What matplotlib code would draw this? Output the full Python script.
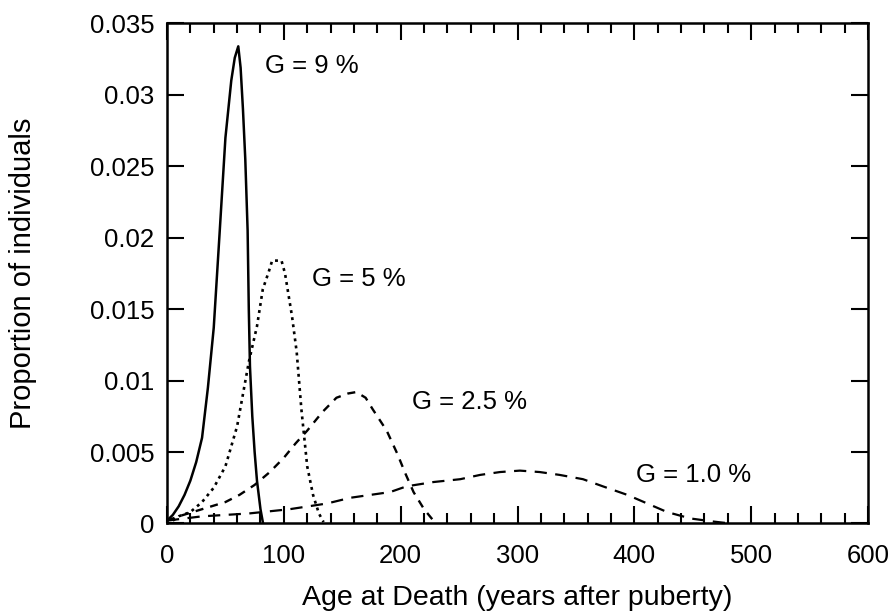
import matplotlib
matplotlib.use("Agg")
import matplotlib.pyplot as plt
from matplotlib.ticker import MultipleLocator, FixedLocator, FixedFormatter

plt.rcParams['font.family'] = ['Liberation Sans', 'DejaVu Sans']

# G = 9 %  (solid)
age_g9 = [0, 5, 10, 15, 20, 25, 30, 35, 40, 45, 50, 55, 58, 61, 63, 65, 67, 69, 70, 71, 73, 75, 77, 80, 82]
prop_g9 = [0.0002, 0.0006, 0.0012, 0.002, 0.003, 0.0043, 0.006, 0.0095, 0.0137, 0.0203, 0.027, 0.031,
           0.0326, 0.0334, 0.0319, 0.029, 0.0255, 0.0205, 0.015, 0.011, 0.0075, 0.005, 0.003, 0.001, 0.0001]

# G = 5 %  (dotted)
age_g5 = [5, 10, 20, 30, 40, 50, 60, 70, 77, 82, 87, 90, 94, 98, 101, 104, 107, 111, 115, 120, 125, 130, 134]
prop_g5 = [0.0002, 0.0005, 0.0008, 0.0015, 0.0025, 0.004, 0.0068, 0.0113, 0.0138, 0.0164, 0.0176, 0.0184,
           0.0184, 0.0184, 0.0175, 0.016, 0.0145, 0.012, 0.008, 0.004, 0.002, 0.0007, 0.0001]

# G = 2.5 %  (short dashes)
age_g25 = [0, 10, 30, 50, 62, 75, 88, 100, 110, 120, 133, 145, 155, 162, 170, 176, 188, 197, 204, 211, 220, 228]
prop_g25 = [0.0002, 0.0005, 0.001, 0.0015, 0.002, 0.0027, 0.0036, 0.0046, 0.0056, 0.0065, 0.0078, 0.0088,
            0.0091, 0.0092, 0.0088, 0.008, 0.0065, 0.0049, 0.0035, 0.0022, 0.001, 0.0002]

# G = 1.0 %  (long dashes)
age_g1 = [0, 10, 30, 70, 105, 137, 157, 174, 191, 205, 228, 251, 268, 285, 302, 319, 336, 356, 373, 394,
          411, 428, 448, 467, 482]
prop_g1 = [0.0002, 0.0003, 0.0005, 0.0007, 0.001, 0.0014, 0.0018, 0.002, 0.0022, 0.0026, 0.0029, 0.0031,
           0.0034, 0.0036, 0.0037, 0.0036, 0.0034, 0.0031, 0.0026, 0.002, 0.0014, 0.0008, 0.00035, 0.00014, 0.0]

y_ticks = [0, 0.005, 0.01, 0.015, 0.02, 0.025, 0.03, 0.035]
y_tick_labels = ['0', '0.005', '0.01', '0.015', '0.02', '0.025', '0.03', '0.035']

fig = plt.figure(figsize=(8.94, 6.16), dpi=100)
ax = fig.add_axes([0.1868, 0.1502, 0.971 - 0.1868, 0.9619 - 0.1502])

ax.plot(age_g9, prop_g9, color='black', lw=1.8)
ax.plot(age_g5, prop_g5, color='black', lw=1.9, dashes=(1.1, 1.6))
ax.plot(age_g25, prop_g25, color='black', lw=1.7, dashes=(3.4, 3.0))
ax.plot(age_g1, prop_g1, color='black', lw=1.6, dashes=(5.5, 3.8))

ax.text(84, 0.0315, 'G = 9 %', fontsize=18.5)
ax.text(124, 0.0166, 'G = 5 %', fontsize=18.5)
ax.text(210, 0.0080, 'G = 2.5 %', fontsize=18.5)
ax.text(401, 0.0029, 'G = 1.0 %', fontsize=18.5)

ax.set_xlim(0, 600)
ax.set_ylim(0, 0.035)
ax.xaxis.set_major_locator(MultipleLocator(100))
ax.xaxis.set_minor_locator(MultipleLocator(20))
ax.yaxis.set_major_locator(FixedLocator(y_ticks))
ax.yaxis.set_major_formatter(FixedFormatter(y_tick_labels))

ax.tick_params(which='both', direction='in', top=True, right=True, width=1.5, labelsize=18.5)
ax.tick_params(axis='x', pad=15)
ax.tick_params(axis='y', pad=9)
ax.tick_params(which='major', length=12)
ax.tick_params(which='minor', length=7)
for s in ax.spines.values():
    s.set_linewidth(1.8)

ax.set_xlabel('Age at Death (years after puberty)', fontsize=20.5, labelpad=12)
ax.set_ylabel('Proportion of individuals', fontsize=21, labelpad=38)

fig.savefig('out.png', dpi=100)
